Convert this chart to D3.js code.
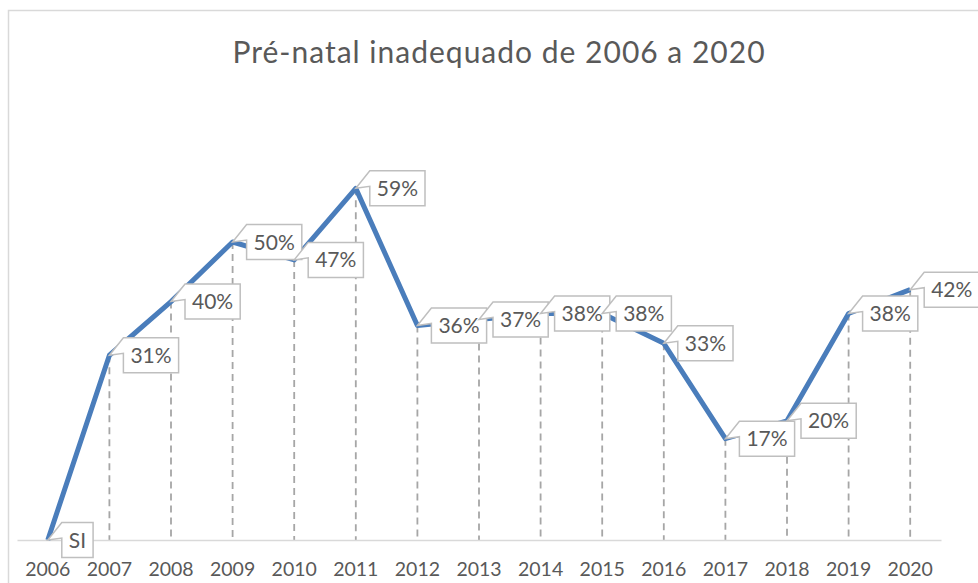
<!DOCTYPE html>
<html>
<head>
<meta charset="utf-8">
<script src="https://cdn.jsdelivr.net/npm/d3@7"></script>
<style>
  body { margin: 0; background: #fff; }
  svg { display: block; font-family: Lato, "Open Sans", sans-serif; }
</style>
</head>
<body>
<svg id="chart" width="978" height="583"></svg>
<script>
'use strict';

var titleText = 'Pré-natal inadequado de 2006 a 2020';
var years = ['2006', '2007', '2008', '2009', '2010', '2011', '2012', '2013',
             '2014', '2015', '2016', '2017', '2018', '2019', '2020'];
// null = sem informação (SI)
var values = [null, 31, 40, 50, 47, 59, 36, 37, 38, 38, 33, 17, 20, 38, 42];

var svg = d3.select('#chart');
var grey = '#595959';

// moldura da área do gráfico (cortada à direita e embaixo)
svg.append('rect')
    .attr('x', 8.5).attr('y', 10.5)
    .attr('width', 1000).attr('height', 620)
    .attr('fill', 'white')
    .attr('stroke', '#d9d9d9')
    .attr('stroke-width', 1.5);

svg.append('text')
    .attr('x', 499).attr('y', 63)
    .attr('text-anchor', 'middle')
    .attr('fill', grey)
    .style('font-size', '30px')
    .style('letter-spacing', '1px')
    .text(titleText);

var x = d3.scaleBand().domain(years).range([17, 941]);
var y = d3.scaleLinear().domain([0, 60]).range([540, 182.4]);

var data = years.map(function(yr, i) {
    return { year: yr, value: values[i] };
});
function cx(d) { return x(d.year) + x.bandwidth() / 2; }
function cy(d) { return y(d.value === null ? 0 : d.value); }

// linhas de queda tracejadas
svg.append('g')
    .selectAll('line')
    .data(data.filter(function(d) { return d.value; }))
    .enter().append('line')
    .attr('x1', cx).attr('x2', cx)
    .attr('y1', cy).attr('y2', y(0))
    .attr('stroke', '#a6a6a6')
    .attr('stroke-width', 1.8)
    .attr('stroke-dasharray', '7,5');

// eixo x
var xAxis = svg.append('g')
    .attr('transform', 'translate(0,' + y(0) + ')')
    .call(d3.axisBottom(x).tickSize(0).tickPadding(22));
xAxis.select('.domain').attr('stroke', '#d9d9d9').attr('stroke-width', 1.5);
xAxis.selectAll('text')
    .attr('fill', grey)
    .style('font-size', '19.5px')
    .style('font-family', 'Lato, sans-serif');

// linha
svg.append('path')
    .datum(data)
    .attr('fill', 'none')
    .attr('stroke', '#4a7dbb')
    .attr('stroke-width', 5)
    .attr('stroke-linejoin', 'round')
    .attr('d', d3.line().x(cx).y(cy));

// rótulos em balão
var labels = svg.append('g')
    .selectAll('g')
    .data(data)
    .enter().append('g');

labels.each(function(d) {
    var g = d3.select(this);
    var px = cx(d), py = cy(d);
    var txt = d.value === null ? 'SI' : d.value + '%';
    var path = g.append('path');
    var t = g.append('text')
        .attr('fill', grey)
        .style('font-size', '21px')
        .text(txt);
    var w = t.node().getComputedTextLength() + 14;
    var h = 35;
    var x0 = px + 14, y0 = py - h / 2;
    t.attr('x', x0 + 7).attr('y', py + 7.5);
    path.attr('d', 'M' + x0 + ',' + y0 + 'H' + (x0 + w) + 'V' + (y0 + h) +
                   'H' + x0 + 'V' + (py - 2) + 'L' + px + ',' + py + 'Z')
        .attr('fill', 'white')
        .attr('stroke', '#bfbfbf')
        .attr('stroke-width', 1.5);
});
</script>
</body>
</html>
